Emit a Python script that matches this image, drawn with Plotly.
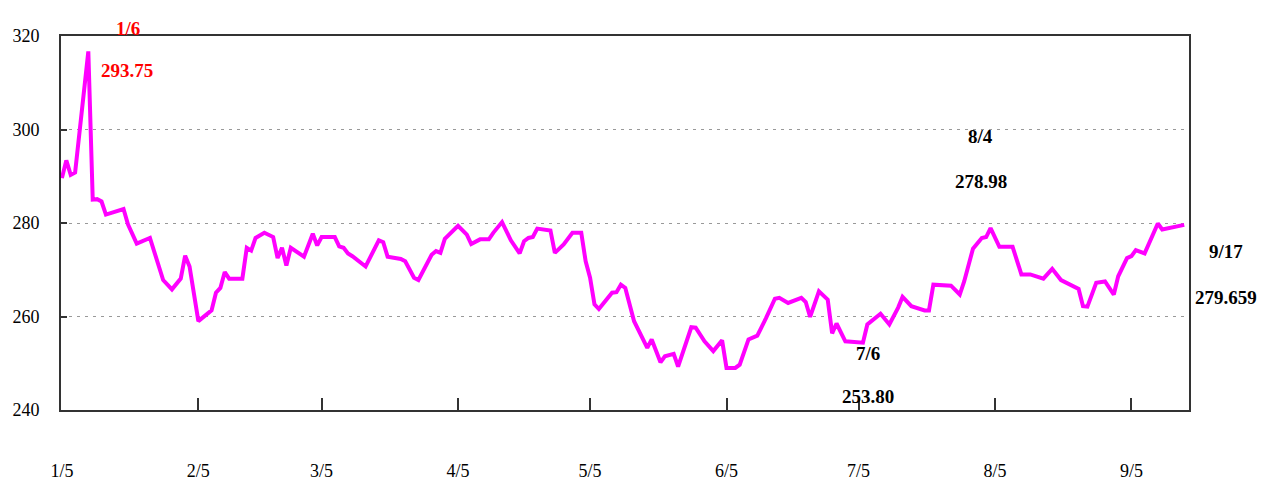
import plotly.graph_objects as go

dates = [
    "2021-01-05", "2021-01-06", "2021-01-07", "2021-01-08", "2021-01-11", "2021-01-12",
    "2021-01-13", "2021-01-14", "2021-01-15", "2021-01-19", "2021-01-20", "2021-01-22",
    "2021-01-25", "2021-01-26", "2021-01-28", "2021-01-30", "2021-02-01", "2021-02-02",
    "2021-02-03", "2021-02-05", "2021-02-08", "2021-02-09", "2021-02-10", "2021-02-11",
    "2021-02-12", "2021-02-15", "2021-02-16", "2021-02-17", "2021-02-18", "2021-02-20",
    "2021-02-22", "2021-02-23", "2021-02-24", "2021-02-25", "2021-02-26", "2021-03-01",
    "2021-03-03", "2021-03-04", "2021-03-05", "2021-03-08", "2021-03-09", "2021-03-10",
    "2021-03-11", "2021-03-12", "2021-03-15", "2021-03-18", "2021-03-19", "2021-03-20",
    "2021-03-23", "2021-03-24", "2021-03-26", "2021-03-27", "2021-03-30", "2021-03-31",
    "2021-04-01", "2021-04-02", "2021-04-05", "2021-04-07", "2021-04-08", "2021-04-10",
    "2021-04-12", "2021-04-13", "2021-04-15", "2021-04-17", "2021-04-19", "2021-04-20",
    "2021-04-21", "2021-04-22", "2021-04-23", "2021-04-26", "2021-04-27", "2021-04-29",
    "2021-05-01", "2021-05-03", "2021-05-04", "2021-05-05", "2021-05-06", "2021-05-07",
    "2021-05-10", "2021-05-11", "2021-05-12", "2021-05-13", "2021-05-15", "2021-05-18",
    "2021-05-19", "2021-05-21", "2021-05-22", "2021-05-24", "2021-05-25", "2021-05-28",
    "2021-05-29", "2021-05-31", "2021-06-02", "2021-06-04", "2021-06-05", "2021-06-07",
    "2021-06-08", "2021-06-10", "2021-06-12", "2021-06-14", "2021-06-16", "2021-06-17",
    "2021-06-19", "2021-06-22", "2021-06-23", "2021-06-24", "2021-06-26", "2021-06-28",
    "2021-06-29", "2021-06-30", "2021-07-02", "2021-07-06", "2021-07-07", "2021-07-10",
    "2021-07-12", "2021-07-14", "2021-07-15", "2021-07-17", "2021-07-20", "2021-07-21",
    "2021-07-22", "2021-07-26", "2021-07-28", "2021-07-29", "2021-07-31", "2021-08-02",
    "2021-08-03", "2021-08-04", "2021-08-06", "2021-08-09", "2021-08-11", "2021-08-13",
    "2021-08-16", "2021-08-18", "2021-08-20", "2021-08-24", "2021-08-25", "2021-08-26",
    "2021-08-28", "2021-08-30", "2021-09-01", "2021-09-02", "2021-09-04", "2021-09-05",
    "2021-09-06", "2021-09-08", "2021-09-11", "2021-09-12", "2021-09-17",
]

values = [
    289.6, 293.4, 290.3, 290.8, 316.7, 285.0,
    285.1, 284.6, 281.8, 283.0, 279.7, 275.6,
    276.8, 274.0, 267.8, 265.8, 268.1, 273.0,
    270.7, 259.0, 261.3, 265.1, 266.1, 269.5,
    268.1, 268.1, 274.7, 274.1, 276.8, 277.9,
    277.0, 272.5, 274.7, 270.9, 274.7, 272.8,
    277.7, 275.2, 277.0, 277.0, 275.0, 274.7,
    273.5, 272.9, 270.7, 276.3, 275.9, 272.8,
    272.3, 271.8, 268.3, 267.8, 273.2, 274.0,
    273.6, 276.6, 279.4, 277.5, 275.5, 276.5,
    276.5, 277.9, 280.2, 276.3, 273.5, 276.1,
    276.8, 277.0, 278.8, 278.4, 273.6, 275.4,
    277.9, 277.9, 271.8, 268.3, 262.6, 261.6,
    265.1, 265.2, 266.8, 266.1, 259.0, 253.3,
    255.1, 250.2, 251.5, 252.0, 249.3, 257.7,
    257.6, 254.7, 252.6, 254.9, 249.0, 249.0,
    249.7, 255.1, 255.9, 259.7, 263.8, 264.0,
    262.9, 264.0, 263.1, 259.9, 265.4, 263.6,
    256.4, 258.5, 254.7, 254.4, 258.3, 260.6,
    258.3, 261.9, 264.2, 262.2, 261.3, 261.3,
    266.8, 266.6, 264.7, 267.5, 274.5, 276.8,
    277.0, 278.9, 274.9, 274.9, 269.0, 269.0,
    268.1, 270.2, 267.8, 265.9, 262.2, 262.1,
    267.2, 267.5, 264.7, 268.6, 272.5, 272.9,
    274.2, 273.5, 279.9, 278.6, 279.6,
]

x_tick_vals = ["2021-01-05", "2021-02-05", "2021-03-05", "2021-04-05", "2021-05-05",
               "2021-06-05", "2021-07-05", "2021-08-05", "2021-09-05"]
x_tick_text = ["1/5", "2/5", "3/5", "4/5", "5/5", "6/5", "7/5", "8/5", "9/5"]
y_tick_vals = [240, 260, 280, 300, 320]

# annotation texts: (text, paper x, paper y, colour)
notes = [
    ("1/6", 0.0594, 1.021, "#FF0000"),
    ("293.75", 0.0585, 0.909, "#FF0000"),
    ("8/4", 0.8156, 0.730, "#000000"),
    ("278.98", 0.8156, 0.612, "#000000"),
    ("7/6", 0.7154, 0.150, "#000000"),
    ("253.80", 0.7154, 0.035, "#000000"),
    ("9/17", 1.0328, 0.4225, "#000000"),
    ("279.659", 1.0328, 0.302, "#000000"),
]

FONT = "Liberation Serif, Times New Roman, serif"

fig = go.Figure()
fig.add_trace(go.Scatter(
    x=dates, y=values, mode="lines",
    line=dict(color="#FF00FF", width=4),
    hoverinfo="skip", showlegend=False,
))

for text, px, py, col in notes:
    fig.add_annotation(
        text=f"<b>{text}</b>", x=px, y=py, xref="paper", yref="paper",
        xanchor="center", yanchor="middle", showarrow=False,
        font=dict(family=FONT, size=19, color=col),
    )

fig.update_layout(
    width=1261, height=482,
    margin=dict(l=61, r=72, t=36, b=72, pad=0, autoexpand=False),
    paper_bgcolor="white", plot_bgcolor="white",
    font=dict(family=FONT, size=18, color="#000000"),
    showlegend=False,
)

fig.update_xaxes(
    type="date",
    range=["2021-01-04 19:00", "2021-09-18 02:00"],
    tickvals=x_tick_vals, ticktext=x_tick_text,
    ticks="inside", ticklen=12, tickwidth=1.5, tickcolor="#333333",
    showline=True, linecolor="#333333", linewidth=2, mirror=True,
    showgrid=False, zeroline=False, automargin=False,
    ticklabelstandoff=43,
    tickfont=dict(family=FONT, size=18, color="#000000"),
)

fig.update_yaxes(
    range=[240, 320],
    tickvals=y_tick_vals,
    ticks="inside", ticklen=6, tickwidth=1.5, tickcolor="#333333",
    showline=True, linecolor="#333333", linewidth=2, mirror=True,
    showgrid=True, gridcolor="#999999", gridwidth=1.2, griddash="3px,5px",
    zeroline=False, automargin=False,
    ticklabelstandoff=16,
    tickfont=dict(family=FONT, size=18, color="#000000"),
)

fig.write_html(
    "out.html",
    config={"displayModeBar": False},
    post_script="document.body.style.margin='0';document.body.style.overflow='hidden';",
)
